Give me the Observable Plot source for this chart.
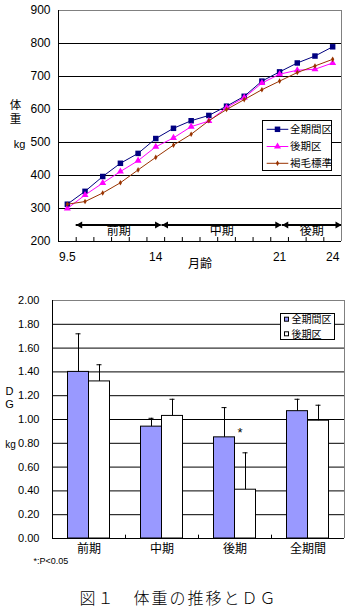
<!DOCTYPE html>
<html><head><meta charset="utf-8">
<script src="https://cdn.jsdelivr.net/npm/d3@7"></script>
<script src="https://cdn.jsdelivr.net/npm/@observablehq/plot@0.6"></script>
<style>
html,body{margin:0;padding:0;background:#fff;}
body{width:355px;height:609px;position:relative;overflow:hidden;font-family:"Liberation Sans",Arial,sans-serif;}
#top{position:absolute;left:0;top:0;}
#bot{position:absolute;left:0;top:280px;}
#cap{position:absolute;left:0;width:355px;top:587px;line-height:20px;text-align:center;font-family:"Noto Sans CJK JP",sans-serif;font-size:16px;letter-spacing:2px;padding-left:2px;box-sizing:border-box;color:#000;font-weight:300;}
svg{overflow:visible;}
</style></head><body>
<div id="top"></div><div id="bot"></div><div id="cap">図１　体重の推移とＤＧ</div>
<script>
// ---------- top chart data ----------
const months = ["9.5","10","11","12","13","14","15","16","17","18","19","20","21","22","23","24"];
const monthTicks = ["9.5","14","21","24"];
const zenkikan = [313,352,397,437,467,512,543,566,582,610,640,686,714,741,762,790];
const kouki    = [300,341,377,412,445,487,514,548,565,606,636,680,707,719,722,741];
const kappou   = [313,321,347,378,417,455,492,525,566,600,630,660,686,712,732,752];
const seriesNames = ["全期間区","後期区","褐毛標準"];
const weightTicks = [200,300,400,500,600,700,800,900];
const periods = ["前期","中期","後期"];
const periodStart = [0.5, 5.35, 12.15];   // in month-category index units
const periodEnd   = [5.3, 12.1, 15.5];
const arrowWeight = 250;
const periodLabelWeight = 231;

// ---------- bottom chart data ----------
const groups = ["前期","中期","後期","全期間"];
const dgZen   = [1.40, 0.94, 0.85, 1.07];
const dgZenSD = [0.32, 0.07, 0.25, 0.10];
const dgKou   = [1.32, 1.03, 0.41, 0.99];
const dgKouSD = [0.14, 0.14, 0.31, 0.13];
const dgTicks = [0,0.2,0.4,0.6,0.8,1.0,1.2,1.4,1.6,1.8,2.0];
const sigGroups = ["後期"];
const barNames = ["全期間区","後期区"];

const CJK = "Noto Sans CJK JP, sans-serif";
const navy = "#000080", magenta = "#FF00FF", brown = "#993300", blue = "#9999FF";

const rows = vals => vals.map((v,i)=>({i, month: months[i], v}));
const dZen = rows(zenkikan), dKou = rows(kouki), dKap = rows(kappou);
const pRows = periods.map((p,i)=>({p, x1: periodStart[i], x2: periodEnd[i], y: arrowWeight, ly: periodLabelWeight, mx:(periodStart[i]+periodEnd[i])/2}));

const topPlot = Plot.plot({
  width:355, height:280, marginTop:10, marginLeft:58, marginRight:14, marginBottom:39,
  style:{fontFamily:"Liberation Sans, Arial, sans-serif", fontSize:"12px", background:"#fff", color:"#000"},
  x:{type:"linear", domain:[-0.5,15.5], ticks: monthTicks.map(m=>months.indexOf(m)), tickFormat:i=>months[i], tickSize:0, tickPadding:11, label:null},
  y:{domain:[200,900], ticks:weightTicks, tickSize:0, tickPadding:8, label:null},
  marks:[
    Plot.ruleY(weightTicks.filter(v=>v>200 && v<900), {stroke:"#000"}),
    Plot.ruleY([900], {stroke:"#808080"}),
    Plot.ruleX([15.5], {stroke:"#808080"}),
    Plot.ruleX([-0.5], {stroke:"#000"}),
    Plot.ruleY([200], {stroke:"#000"}),
    Plot.ruleX(d3.range(0.5,15,1), {y1:200, y2:212, stroke:"#000"}),
    // period arrows
    Plot.ruleY(pRows, {y:"y", x1:"x1", x2:"x2", stroke:"#000", strokeWidth:2}),
    Plot.dot(pRows, {x:"x1", y:"y", symbol:"triangle", rotate:-90, r:2.6, fill:"#000", dx:4}),
    Plot.dot(pRows, {x:"x2", y:"y", symbol:"triangle", rotate:90, r:2.6, fill:"#000", dx:-4}),
    Plot.text(pRows, {x:"mx", y:"ly", text:"p", fontFamily:CJK, fontSize:12, fill:"#000"}),
    // series
    Plot.line(dZen, {x:"i", y:"v", stroke:navy, strokeWidth:1}),
    Plot.dot(dZen, {x:"i", y:"v", symbol:"square", r:3.1, fill:navy}),
    Plot.line(dKou, {x:"i", y:"v", stroke:magenta, strokeWidth:1}),
    Plot.dot(dKou, {x:"i", y:"v", symbol:"triangle", r:2.6, fill:magenta}),
    Plot.line(dKap, {x:"i", y:"v", stroke:brown, strokeWidth:1}),
    Plot.dot(dKap, {x:"i", y:"v", symbol:"diamond", r:1.7, fill:brown}),
    // axis titles
    Plot.text(["体"], {frameAnchor:"left", textAnchor:"middle", dx:-43, dy:-20.8, fontFamily:CJK, fontSize:11.5, fill:"#000"}),
    Plot.text(["重"], {frameAnchor:"left", textAnchor:"middle", dx:-43, dy:-6.2, fontFamily:CJK, fontSize:11.5, fill:"#000"}),
    Plot.text(["kg"], {frameAnchor:"left", textAnchor:"middle", dx:-39, dy:18.5, fontSize:11, fill:"#000"}),
    Plot.text(["月齢"], {frameAnchor:"bottom", dy:26.7, fontFamily:CJK, fontSize:12, fill:"#000"})
  ]
});
document.getElementById("top").appendChild(topPlot);

// top legend
{
  const svg = d3.select(topPlot);
  const g = svg.append("g").attr("text-anchor","start");
  g.append("rect").attr("x",262.5).attr("y",120.5).attr("width",69).attr("height",50).attr("fill","#fff").attr("stroke","#000");
  const cols = [navy, magenta, brown];
  const syms = [d3.symbolSquare, d3.symbolTriangle, d3.symbolDiamond];
  const sizes = [Math.PI*3.1*3.1, Math.PI*2.6*2.6, Math.PI*1.7*1.7];
  const ys = [129.3, 146.5, 163.3];
  seriesNames.forEach((n,k)=>{
    g.append("line").attr("x1",266.7).attr("x2",288.3).attr("y1",ys[k]).attr("y2",ys[k]).attr("stroke",cols[k]);
    g.append("path").attr("d", d3.symbol(syms[k], sizes[k])()).attr("transform",`translate(277.5,${ys[k]})`).attr("fill",cols[k]);
    g.append("text").attr("x",290).attr("y",ys[k]).attr("dy","0.36em").attr("text-anchor","start").attr("font-family",CJK).attr("font-size",10.5).attr("fill","#000").text(n);
  });
}

// ---------- bottom chart ----------
const W = 355, mL = 52, mR = 11;
const bw = (W - mL - mR) / groups.length;
const barW = 21;
const zRows = groups.map((g,i)=>({g, v: dgZen[i], sd: dgZenSD[i]}));
const kRows = groups.map((g,i)=>({g, v: dgKou[i], sd: dgKouSD[i]}));
const sigRows = sigGroups.map(g=>({g, y: dgZen[groups.indexOf(g)] + 0.035}));
const capW = 5;

const botPlot = Plot.plot({
  width:W, height:295, marginTop:20, marginLeft:mL, marginRight:mR, marginBottom:37,
  style:{fontFamily:"Liberation Sans, Arial, sans-serif", fontSize:"11px", background:"#fff", color:"#000"},
  x:{type:"band", domain:groups, padding:0, axis:null},
  y:{domain:[0,2], ticks:dgTicks, tickFormat:d3.format(".2f"), tickSize:0, tickPadding:13, label:null},
  marks:[
    Plot.ruleY(dgTicks.filter(v=>v>0 && v<2), {stroke:"#000"}),
    Plot.ruleY([2], {stroke:"#808080"}),
    Plot.ruleX([groups[groups.length-1]], {dx: bw/2, stroke:"#808080"}),
    Plot.ruleX(groups.slice(1), {y1:0, y2:0.028, dx:-bw/2, stroke:"#000"}),
    Plot.barY(zRows, {x:"g", y:"v", fill:blue, stroke:"#000", insetLeft: bw/2 - barW, insetRight: bw/2}),
    Plot.barY(kRows, {x:"g", y:"v", fill:"#fff", stroke:"#000", insetLeft: bw/2, insetRight: bw/2 - barW}),
    Plot.ruleX(zRows, {x:"g", y1:"v", y2:d=>d.v+d.sd, dx:-barW/2, stroke:"#000"}),
    Plot.tickY(zRows, {x:"g", y:d=>d.v+d.sd, insetLeft: bw/2 - barW/2 - capW/2, insetRight: bw/2 + barW/2 - capW/2, stroke:"#000"}),
    Plot.ruleX(kRows, {x:"g", y1:"v", y2:d=>d.v+d.sd, dx:barW/2, stroke:"#000"}),
    Plot.tickY(kRows, {x:"g", y:d=>d.v+d.sd, insetLeft: bw/2 + barW/2 - capW/2, insetRight: bw/2 - barW/2 - capW/2, stroke:"#000"}),
    Plot.ruleX([groups[0]], {dx:-bw/2, stroke:"#000"}),
    Plot.ruleY([0], {stroke:"#000"}),
    Plot.text(sigRows, {x:"g", y:"y", text:()=>"*", dx:5, fontSize:13, fill:"#000"}),
    Plot.text(groups, {x:d=>d, frameAnchor:"bottom", dy:14.7, fontFamily:CJK, fontSize:12, fill:"#000"}),
    Plot.text(["D"], {frameAnchor:"left", textAnchor:"middle", dx:-43, dy:-28, fontSize:11, fill:"#000"}),
    Plot.text(["G"], {frameAnchor:"left", textAnchor:"middle", dx:-43, dy:-14.7, fontSize:11, fill:"#000"}),
    Plot.text(["kg"], {frameAnchor:"left", textAnchor:"middle", dx:-42, dy:25, fontSize:10, fill:"#000"}),
    Plot.text(["*:P<0.05"], {frameAnchor:"bottom-left", dx:-19, dy:25.3, textAnchor:"start", fontSize:9, letterSpacing:-0.4, fill:"#000"})
  ]
});
document.getElementById("bot").appendChild(botPlot);

// bottom legend
{
  const svg = d3.select(botPlot);
  const g = svg.append("g").attr("text-anchor","start");
  g.append("rect").attr("x",280.5).attr("y",33.5).attr("width",54).attr("height",26).attr("fill","#fff").attr("stroke","#000");
  const fills = [blue, "#fff"];
  const ys = [39.7, 54.3];
  barNames.forEach((n,k)=>{
    g.append("rect").attr("x",284.5).attr("y",ys[k]-2.5).attr("width",4).attr("height",4).attr("fill",fills[k]).attr("stroke","#000");
    g.append("text").attr("x",291.5).attr("y",ys[k]).attr("dy","0.36em").attr("text-anchor","start").attr("font-family",CJK).attr("font-size",10).attr("fill","#000").text(n);
  });
}
</script>
</body></html>
